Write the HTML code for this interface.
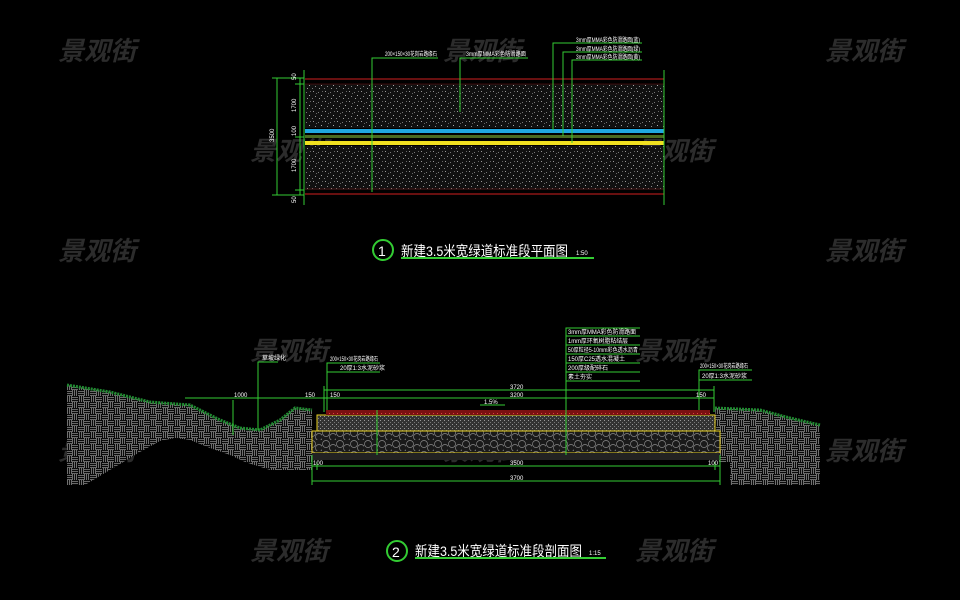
<!DOCTYPE html>
<html><head><meta charset="utf-8"><style>
html,body{margin:0;padding:0;background:#000;}
svg{display:block}
.wm{font-family:"Liberation Sans","Noto Sans CJK SC",sans-serif;font-size:26px;font-style:italic;font-weight:bold;fill:#2c2c2c;}
.t{font-family:"Liberation Sans",sans-serif;font-size:6px;fill:#fff;}
.tt{font-family:"Liberation Sans","Noto Sans CJK SC",sans-serif;font-size:14px;fill:#fff;}
</style></head><body>
<svg width="960" height="600" viewBox="0 0 960 600" xmlns="http://www.w3.org/2000/svg">
<defs>
<pattern id="spk" width="12" height="10" patternUnits="userSpaceOnUse">
<rect width="12" height="10" fill="#111"/>
<rect x="1" y="1" width="1" height="1" fill="#999"/><rect x="6" y="2" width="1" height="1" fill="#777"/>
<rect x="9" y="5" width="1" height="1" fill="#aaa"/><rect x="3" y="6" width="1" height="1" fill="#888"/>
<rect x="7" y="8" width="1" height="1" fill="#999"/><rect x="10" y="1" width="1" height="1" fill="#666"/>
<rect x="0" y="8" width="1" height="1" fill="#777"/><rect x="4" y="3" width="1" height="1" fill="#666"/>
</pattern>
<pattern id="fine" width="4" height="4" patternUnits="userSpaceOnUse">
<rect width="4" height="4" fill="#333"/><rect x="0" y="0" width="1" height="1" fill="#999"/><rect x="2" y="2" width="1" height="1" fill="#777"/>
</pattern>
<pattern id="cob" width="14" height="11" patternUnits="userSpaceOnUse">
<rect width="14" height="11" fill="#1a1a1a"/>
<circle cx="4" cy="4" r="3.5" fill="none" stroke="#888" stroke-width="0.7"/>
<circle cx="11" cy="8" r="3.5" fill="none" stroke="#888" stroke-width="0.7"/>
</pattern>
<pattern id="brk" width="12" height="12" patternUnits="userSpaceOnUse">
<rect width="12" height="12" fill="#0a0a0a"/>
<path d="M0 1.5h6M0 3.5h6M0 5.5h6M7.5 0v6M9.5 0v6M11.5 0v6M0.5 6v6M2.5 6v6M4.5 6v6M6 7.5h6M6 9.5h6M6 11.5h6" stroke="#888" stroke-width="0.8"/>
</pattern>
<pattern id="red" width="4" height="4" patternUnits="userSpaceOnUse">
<rect width="4" height="4" fill="#7a1010"/><rect x="1" y="1" width="1" height="1" fill="#e04040"/>
</pattern>
</defs>

<!-- watermarks -->
<g class="wm">
<text x="58" y="60">景观街</text><text x="443" y="60">景观街</text><text x="825" y="60">景观街</text>
<text x="250" y="160">景观街</text><text x="635" y="160">景观街</text>
<text x="58" y="260">景观街</text><text x="825" y="260">景观街</text>
<text x="250" y="360">景观街</text><text x="635" y="360">景观街</text>
<text x="58" y="460">景观街</text><text x="443" y="460">景观街</text><text x="825" y="460">景观街</text>
<text x="250" y="560">景观街</text><text x="635" y="560">景观街</text>
</g>

<!-- Top plan -->
<rect x="305" y="84" width="359" height="44" fill="url(#spk)"/>
<rect x="305" y="146" width="359" height="44" fill="url(#spk)"/>
<line x1="305" y1="79" x2="664" y2="79" stroke="#d02020" stroke-width="1"/>
<line x1="305" y1="84" x2="664" y2="84" stroke="#701010" stroke-width="0.6"/>
<line x1="305" y1="194" x2="664" y2="194" stroke="#d02020" stroke-width="1"/>
<line x1="305" y1="189" x2="664" y2="189" stroke="#701010" stroke-width="0.6"/>
<rect x="305" y="129" width="359" height="4" fill="#20a8e0"/>
<rect x="305" y="135" width="359" height="3" fill="#4a6a20"/>
<rect x="305" y="141" width="359" height="4" fill="#f0e020"/>
<g stroke="#3c3" stroke-width="1" fill="none">
<line x1="304" y1="70" x2="304" y2="205"/><line x1="664" y1="70" x2="664" y2="205"/>
<line x1="277" y1="78" x2="277" y2="195"/><line x1="300" y1="78" x2="300" y2="195"/>
<line x1="272" y1="78" x2="304" y2="78"/><line x1="272" y1="195" x2="304" y2="195"/>
<line x1="295" y1="84" x2="304" y2="84"/><line x1="295" y1="137" x2="304" y2="137"/><line x1="295" y1="190" x2="304" y2="190"/>
<polyline points="372,192 372,58 438,58"/>
<polyline points="460,112 460,58 528,58"/>
<polyline points="553,130 553,43 642,43"/>
<polyline points="563,136 563,52 642,52"/>
<polyline points="572,143 572,60 642,60"/>
</g>
<g class="t" font-size="5">
<text x="385" y="56" textLength="52" lengthAdjust="spacingAndGlyphs">200×150×30花岗岩路缘石</text>
<text x="466" y="56" textLength="60" lengthAdjust="spacingAndGlyphs">3mm厚MMA彩色防滑路面</text>
<text x="576" y="42" textLength="64" lengthAdjust="spacingAndGlyphs">3mm厚MMA彩色防滑路面(蓝)</text>
<text x="576" y="51" textLength="64" lengthAdjust="spacingAndGlyphs">3mm厚MMA彩色防滑路面(绿)</text>
<text x="576" y="59" textLength="64" lengthAdjust="spacingAndGlyphs">3mm厚MMA彩色防滑路面(黄)</text>
</g>
<g class="t" font-size="5">
<text transform="translate(296,80) rotate(-90)">50</text>
<text transform="translate(296,112) rotate(-90)">1700</text>
<text transform="translate(296,136) rotate(-90)">100</text>
<text transform="translate(274,142) rotate(-90)">3500</text>
<text transform="translate(296,172) rotate(-90)">1700</text>
<text transform="translate(296,203) rotate(-90)">50</text>
</g>
<circle cx="383" cy="250" r="10" fill="none" stroke="#3c3" stroke-width="2"/>
<text x="378" y="256" class="tt" font-size="15">1</text>
<text x="401" y="256" class="tt" textLength="167" lengthAdjust="spacingAndGlyphs">新建3.5米宽绿道标准段平面图</text>
<text x="576" y="255" class="t" font-size="8">1:50</text>
<line x1="401" y1="258" x2="594" y2="258" stroke="#3c3" stroke-width="2"/>

<!-- Bottom section ground -->
<path d="M67,385 L110,392 L150,402 L190,405 L220,420 L240,428 L260,430 L280,420 L295,408 L312,410 L312,470 L270,470 L245,462 L230,455 L210,448 L190,440 L175,438 L160,441 L140,452 L110,470 L85,485 L67,485 Z" fill="url(#brk)"/>
<path d="M715,408 L760,410 L790,418 L820,425 L820,485 L730,485 L730,462 L718,462 Z" fill="url(#brk)"/>
<path d="M67,385 L110,392 L150,402 L190,405 L220,420 L240,428 L260,430 L280,420 L295,408 L312,410" fill="none" stroke="#1f8a30" stroke-width="3" stroke-dasharray="2 1"/>
<path d="M715,408 L760,410 L790,418 L820,425" fill="none" stroke="#1f8a30" stroke-width="3" stroke-dasharray="2 1"/>
<!-- road layers -->
<rect x="312" y="431" width="408" height="22" fill="url(#cob)" stroke="#e8d020" stroke-width="1"/>
<rect x="317" y="415" width="398" height="16" fill="url(#fine)" stroke="#e8d020" stroke-width="1"/>
<rect x="326" y="410" width="384" height="5" fill="url(#red)"/>
<rect x="312" y="453" width="408" height="7" fill="#222"/>
<g stroke="#3c3" stroke-width="1" fill="none">
<line x1="324" y1="390" x2="714" y2="390"/>
<line x1="185" y1="398" x2="714" y2="398"/>
<line x1="312" y1="466" x2="720" y2="466"/>
<line x1="312" y1="481" x2="720" y2="481"/>
<line x1="312" y1="455" x2="312" y2="485"/><line x1="720" y1="455" x2="720" y2="485"/>
<line x1="317" y1="462" x2="317" y2="470"/><line x1="715" y1="462" x2="715" y2="470"/>
<line x1="324" y1="386" x2="324" y2="412"/><line x1="714" y1="386" x2="714" y2="412"/>
<line x1="233" y1="400" x2="233" y2="435"/>
<polyline points="258,430 258,362 278,362"/>
<polyline points="327,410 327,363 380,363"/>
<polyline points="566,455 566,328 640,328"/>
<line x1="566" y1="336" x2="640" y2="336"/><line x1="566" y1="345" x2="640" y2="345"/>
<line x1="566" y1="354" x2="640" y2="354"/><line x1="566" y1="363" x2="640" y2="363"/>
<line x1="566" y1="372" x2="640" y2="372"/><line x1="566" y1="381" x2="640" y2="381"/>
<line x1="327" y1="372" x2="380" y2="372"/>
<polyline points="699,410 699,370 752,370"/><line x1="699" y1="380" x2="752" y2="380"/>
<line x1="377" y1="410" x2="377" y2="455"/>
<line x1="480" y1="405" x2="505" y2="405"/>
</g>
<g class="t" font-size="5">
<text x="262" y="360">草坡绿化</text>
<text x="330" y="361" textLength="48" lengthAdjust="spacingAndGlyphs">200×150×30花岗岩路缘石</text>
<text x="340" y="370">20厚1:3水泥砂浆</text>
<text x="568" y="334" textLength="68" lengthAdjust="spacingAndGlyphs">3mm厚MMA彩色防滑路面</text>
<text x="568" y="343" textLength="60" lengthAdjust="spacingAndGlyphs">1mm厚环氧树脂粘结层</text>
<text x="568" y="352" textLength="70" lengthAdjust="spacingAndGlyphs">50厚粒径5-10mm彩色透水沥青</text>
<text x="568" y="361">150厚C25透水混凝土</text>
<text x="568" y="370">200厚级配碎石</text>
<text x="568" y="379">素土夯实</text>
<text x="700" y="368" textLength="48" lengthAdjust="spacingAndGlyphs">200×150×30花岗岩路缘石</text>
<text x="702" y="378">20厚1:3水泥砂浆</text>
<text x="510" y="389">3720</text>
<text x="510" y="397">3200</text>
<text x="234" y="397">1000</text>
<text x="305" y="397">150</text>
<text x="330" y="397">150</text>
<text x="696" y="397">150</text>
<text x="484" y="404">1.5%</text>
<text x="510" y="465">3500</text>
<text x="510" y="480">3700</text>
<text x="313" y="465">100</text>
<text x="708" y="465">100</text>
</g>
<circle cx="397" cy="551" r="10" fill="none" stroke="#3c3" stroke-width="2"/>
<text x="392" y="557" class="tt" font-size="15">2</text>
<text x="415" y="556" class="tt" textLength="167" lengthAdjust="spacingAndGlyphs">新建3.5米宽绿道标准段剖面图</text>
<text x="589" y="555" class="t" font-size="8">1:15</text>
<line x1="415" y1="558" x2="606" y2="558" stroke="#3c3" stroke-width="2"/>
</svg>
</body></html>
